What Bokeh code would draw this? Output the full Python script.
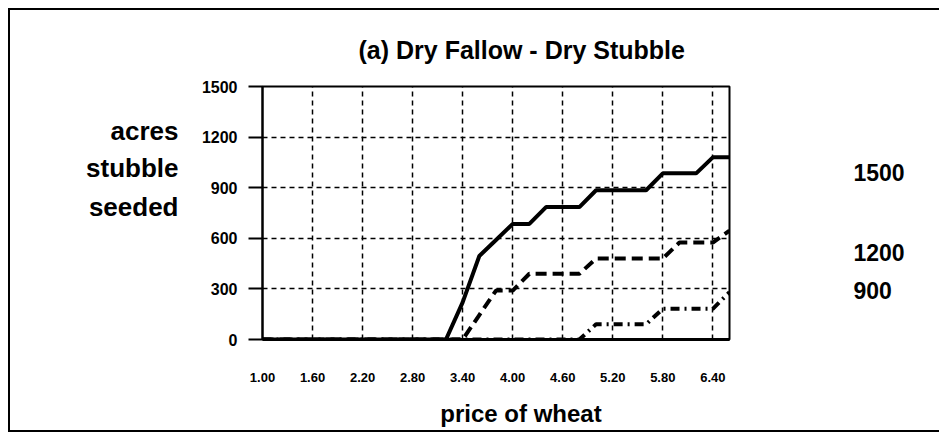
from bokeh.plotting import figure
from bokeh.models import Range1d, FixedTicker, NumeralTickFormatter, LinearAxis
from bokeh.embed import file_html
from bokeh.resources import INLINE

# ---- data ----
price = [1.0, 1.2, 1.4, 1.6, 1.8, 2.0, 2.2, 2.4, 2.6, 2.8, 3.0, 3.2, 3.4, 3.6, 3.8,
         4.0, 4.2, 4.4, 4.6, 4.8, 5.0, 5.2, 5.4, 5.6, 5.8, 6.0, 6.2, 6.4, 6.6]
acres_1500 = [0, 0, 0, 0, 0, 0, 0, 0, 0, 0, 0, 0, 220, 495, 590,
              685, 685, 785, 785, 785, 885, 885, 885, 885, 985, 985, 985, 1080, 1080]
acres_1200 = [0, 0, 0, 0, 0, 0, 0, 0, 0, 0, 0, 0, 0, 145, 290,
              290, 390, 390, 390, 390, 480, 480, 480, 480, 480, 575, 575, 575, 645]
acres_900 = [0, 0, 0, 0, 0, 0, 0, 0, 0, 0, 0, 0, 0, 0, 0,
             0, 0, 0, 0, 0, 90, 90, 90, 90, 182, 182, 182, 182, 280]
x_ticks = [1.0, 1.6, 2.2, 2.8, 3.4, 4.0, 4.6, 5.2, 5.8, 6.4]
y_ticks = [0, 300, 600, 900, 1200, 1500]
series_names = ["1500", "1200", "900"]
series_label_pos = [990, 516, 290]
title_text = "(a) Dry Fallow - Dry Stubble"
ylabel_lines = ["acres", "stubble", "seeded"]
ylabel_pos = [1239, 1014, 783]
xlabel_text = "price of wheat"
xlabel_pos = 4.1

FONT = "Liberation Sans"

p = figure(width=931, height=424, output_backend="svg", toolbar_location=None,
           x_range=Range1d(1.0, 6.6), y_range=Range1d(0, 1500),
           min_border_left=252, min_border_right=212,
           min_border_top=76, min_border_bottom=95)
p.styles = {"margin-left": "8px", "margin-top": "8px",
            "border-style": "solid", "border-color": "black",
            "border-width": "2px 0px 2px 2px"}
p.background_fill_color = "white"
p.border_fill_color = "white"
p.outline_line_color = "black"
p.outline_line_width = 2

# title
p.title.text = title_text
p.title.align = "left"
p.title.offset = 96
p.title.text_font = FONT
p.title.text_font_style = "bold"
p.title.text_font_size = "25px"
p.title.text_color = "black"
p.title.standoff = 46

# x axis
p.xaxis.ticker = FixedTicker(ticks=x_ticks)
p.xaxis.formatter = NumeralTickFormatter(format="0.00")
p.xaxis.major_tick_in = 0
p.xaxis.major_tick_out = 0
p.xaxis.minor_tick_line_color = None
p.xaxis.axis_line_width = 3
p.xaxis.axis_line_color = "black"
p.xaxis.major_label_text_font = FONT
p.xaxis.major_label_text_font_style = "bold"
p.xaxis.major_label_text_font_size = "13px"
p.xaxis.major_label_text_color = "black"
p.xaxis.major_label_standoff = 33

# x axis title, drawn as an extra bottom axis with one word label
xlab_axis = LinearAxis(ticker=FixedTicker(ticks=[xlabel_pos]),
                       major_label_overrides={xlabel_pos: xlabel_text})
xlab_axis.axis_line_color = None
xlab_axis.major_tick_line_color = None
xlab_axis.minor_tick_line_color = None
xlab_axis.major_label_text_font = FONT
xlab_axis.major_label_text_font_style = "bold"
xlab_axis.major_label_text_font_size = "24px"
xlab_axis.major_label_text_color = "black"
xlab_axis.major_label_standoff = 9
p.add_layout(xlab_axis, "below")

# y axis
p.yaxis.ticker = FixedTicker(ticks=y_ticks)
p.yaxis.major_tick_in = 0
p.yaxis.major_tick_out = 14
p.yaxis.major_tick_line_width = 2
p.yaxis.minor_tick_line_color = None
p.yaxis.axis_line_width = 2
p.yaxis.axis_line_color = "black"
p.yaxis.major_label_text_font = FONT
p.yaxis.major_label_text_font_style = "bold"
p.yaxis.major_label_text_font_size = "16px"
p.yaxis.major_label_text_color = "black"
p.yaxis.major_label_standoff = 11

# multi-line y axis title, drawn as an extra left axis with word labels
ylab_axis = LinearAxis(ticker=FixedTicker(ticks=ylabel_pos),
                       major_label_overrides={v: t for v, t in zip(ylabel_pos, ylabel_lines)})
ylab_axis.axis_line_color = None
ylab_axis.major_tick_line_color = None
ylab_axis.minor_tick_line_color = None
ylab_axis.major_label_text_font = FONT
ylab_axis.major_label_text_font_style = "bold"
ylab_axis.major_label_text_font_size = "26px"
ylab_axis.major_label_text_color = "black"
ylab_axis.major_label_standoff = 14
p.add_layout(ylab_axis, "left")

# series names on the right
name_axis = LinearAxis(ticker=FixedTicker(ticks=series_label_pos),
                       major_label_overrides={v: t for v, t in zip(series_label_pos, series_names)})
name_axis.axis_line_color = None
name_axis.major_tick_line_color = None
name_axis.minor_tick_line_color = None
name_axis.major_label_text_font = FONT
name_axis.major_label_text_font_style = "bold"
name_axis.major_label_text_font_size = "23px"
name_axis.major_label_text_color = "black"
name_axis.major_label_standoff = 118
p.add_layout(name_axis, "right")

# grids
p.xgrid.ticker = FixedTicker(ticks=x_ticks)
p.ygrid.ticker = FixedTicker(ticks=y_ticks)
for g in (p.xgrid, p.ygrid):
    g.grid_line_color = "black"
    g.grid_line_width = 1.5
    g.grid_line_dash = "5 4"

# series
p.line(price, acres_900, line_color="black", line_width=4, line_dash="9 5 2 5")
p.line(price, acres_1200, line_color="black", line_width=4, line_dash="11 6")
p.line(price, acres_1500, line_color="black", line_width=4)

open("out.html", "w").write(file_html(p, INLINE))
